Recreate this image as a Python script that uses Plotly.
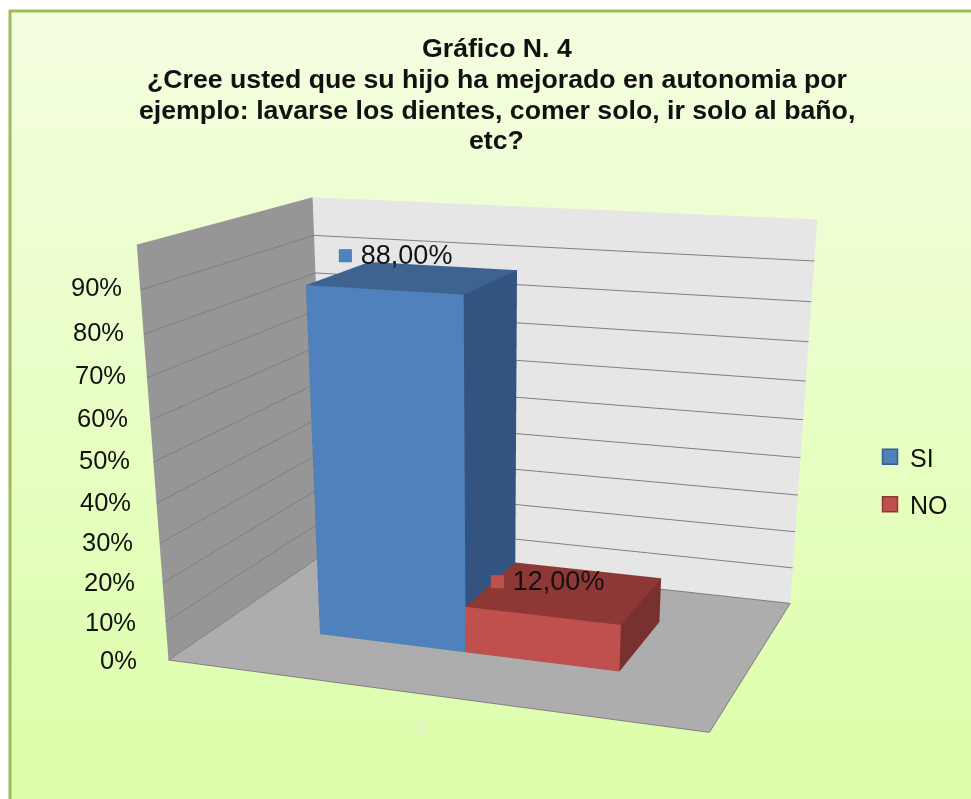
# Grafico N. 4 - 3D column chart, SI / NO percentages
import plotly.graph_objects as go

categories = ["SI", "NO"]
values = [88, 12]
value_labels = ["88,00%", "12,00%"]
front_colors = ["#4F81BD", "#C0504D"]
top_colors = ["#3E6391", "#8E3836"]
side_colors = ["#335480", "#7A302E"]
edge_colors = ["#385D8A", "#8C3836"]
tick_values = [0, 10, 20, 30, 40, 50, 60, 70, 80, 90]
tick_labels = ["0%", "10%", "20%", "30%", "40%", "50%", "60%", "70%", "80%", "90%"]
title_lines = [
    "Gráfico N. 4",
    "¿Cree usted que su hijo ha mejorado en autonomia por",
    "ejemplo: lavarse los dientes, comer solo, ir solo al baño,",
    "etc?",
]

# plotly's 3D camera has a fixed 45 degree lens, so the figure is taller than
# the window to get the flatter perspective of the original; only the top shows
W, H = 963, 1500
PAGE = 8  # body margin of the page
bar_start = 0.201
bar_width = 0.292
depth_start = 0.316
depth_end = 0.721


def px(x):
    return (x - PAGE) / W


def py(y):
    return 1 - (y - PAGE) / H


def column(i, height):
    x0 = bar_start + i * bar_width
    x1 = x0 + bar_width
    xs = [x0, x1, x1, x0, x0, x1, x1, x0]
    ys = [depth_start, depth_start, depth_end, depth_end] * 2
    zs = [0, 0, 0, 0, height, height, height, height]
    # front, right, top, left, back, bottom
    tri = [(0, 1, 5), (0, 5, 4), (1, 2, 6), (1, 6, 5), (4, 5, 6), (4, 6, 7),
           (3, 0, 4), (3, 4, 7), (2, 3, 7), (2, 7, 6), (0, 1, 2), (0, 2, 3)]
    face = [front_colors[i]] * 2 + [side_colors[i]] * 2 + [top_colors[i]] * 2 + [side_colors[i]] * 6
    return go.Mesh3d(x=xs, y=ys, z=zs,
                     i=[t[0] for t in tri], j=[t[1] for t in tri], k=[t[2] for t in tri],
                     facecolor=face, flatshading=True,
                     lighting=dict(ambient=1, diffuse=0, specular=0, roughness=1, fresnel=0),
                     showlegend=False, hoverinfo="skip")


fig = go.Figure([column(i, v) for i, v in enumerate(values)])

# legend entries
for i, name in enumerate(categories):
    fig.add_trace(go.Scatter(x=[None], y=[None], mode="markers", name=name, legendgroup=name,
                             marker=dict(symbol="square", size=15, color=front_colors[i],
                                         line=dict(color=edge_colors[i], width=1.5))))

# pale green panel, darker towards the bottom
shapes = []
steps = 40
top, bottom = 11, 800
for s in range(steps):
    t = s / (steps - 1)
    col = "rgb(%d,%d,%d)" % (244 - 23 * t, 254 + t, 224 - 54 * t)
    shapes.append(dict(type="rect", xref="paper", yref="paper", layer="below",
                       x0=px(10), x1=1,
                       y0=py(top + (bottom - top) * s / steps),
                       y1=py(top + (bottom - top) * (s + 1) / steps + 1),
                       fillcolor=col, line_width=0))
shapes.append(dict(type="line", xref="paper", yref="paper", layer="below", x0=px(10), x1=px(10),
                   y0=py(10), y1=py(bottom), line=dict(color="#9BBB59", width=3)))
shapes.append(dict(type="line", xref="paper", yref="paper", layer="below", x0=px(9), x1=1,
                   y0=py(11), y1=py(11), line=dict(color="#9BBB59", width=3)))

notes = []
for v, t in zip(tick_values, tick_labels):
    notes.append(dict(x=0, y=0, z=v, text=t, showarrow=False, xanchor="right",
                      xshift=-29 + v / 90 * 13, yshift=v / 90 * 3,
                      font=dict(size=25.5, color="#111111")))
label_shift = [(-79, 23), (-78, 11)]
for i, v in enumerate(values):
    notes.append(dict(x=bar_start + (i + 0.5) * bar_width, y=(depth_start + depth_end) / 2, z=v,
                      text='<span style="color:%s">■</span> %s' % (front_colors[i], value_labels[i]),
                      showarrow=False, xanchor="left", xshift=label_shift[i][0], yshift=label_shift[i][1],
                      font=dict(size=27, color="#111111")))
notes.append(dict(x=0.5, y=0, z=0, text="4", showarrow=False, xshift=-5, yshift=-33,
                  font=dict(size=25, color="#E6EFD3")))

title_y = [48, 79, 110, 140]
title_notes = [dict(xref="paper", yref="paper", x=px(497), y=py(y), yanchor="middle",
                    text="<b>%s</b>" % line, showarrow=False,
                    font=dict(size=26.7, color="#111111"))
               for line, y in zip(title_lines, title_y)]


def plain_axis(**kw):
    return dict(showticklabels=False, ticks="", title="", zeroline=False, showspikes=False,
                showbackground=True, **kw)


fig.update_layout(
    width=W, height=H, margin=dict(l=0, r=0, t=0, b=0),
    paper_bgcolor="white", plot_bgcolor="rgba(0,0,0,0)", shapes=shapes, annotations=title_notes,
    font=dict(family="Liberation Sans", color="#111111"),
    xaxis=dict(visible=False), yaxis=dict(visible=False),
    legend=dict(x=px(870), y=py(434), yanchor="top", xanchor="left", bgcolor="rgba(0,0,0,0)",
                font=dict(size=25, color="#111111"), tracegroupgap=12, itemwidth=30),
    scene=dict(
        domain=dict(x=[0, 1], y=[0, 1]),
        bgcolor="rgba(0,0,0,0)",
        aspectmode="manual", aspectratio=dict(x=1.448, y=1, z=1.058),
        camera=dict(eye=dict(x=1.56, y=-4.408, z=1.151), center=dict(x=-0.326, y=0.892, z=-1.329),
                    up=dict(x=0, y=0, z=1), projection=dict(type="perspective")),
        xaxis=plain_axis(range=[0, 1], showgrid=False, backgroundcolor="#969696", showline=True,
                         linecolor="#808080", linewidth=2),
        yaxis=plain_axis(range=[0, 1], showgrid=False, backgroundcolor="#E6E6E6", showline=True,
                         linecolor="#808080", linewidth=2),
        zaxis=plain_axis(range=[0, 100], showgrid=True, gridcolor="#7F7F7F", gridwidth=2,
                         tickvals=tick_values, backgroundcolor="#ADADAD", showline=False),
        annotations=notes,
    ),
)

# the panel runs up to the right edge of the window in the original
fig.write_html("out.html", post_script="document.body.style.marginRight = '0';")
